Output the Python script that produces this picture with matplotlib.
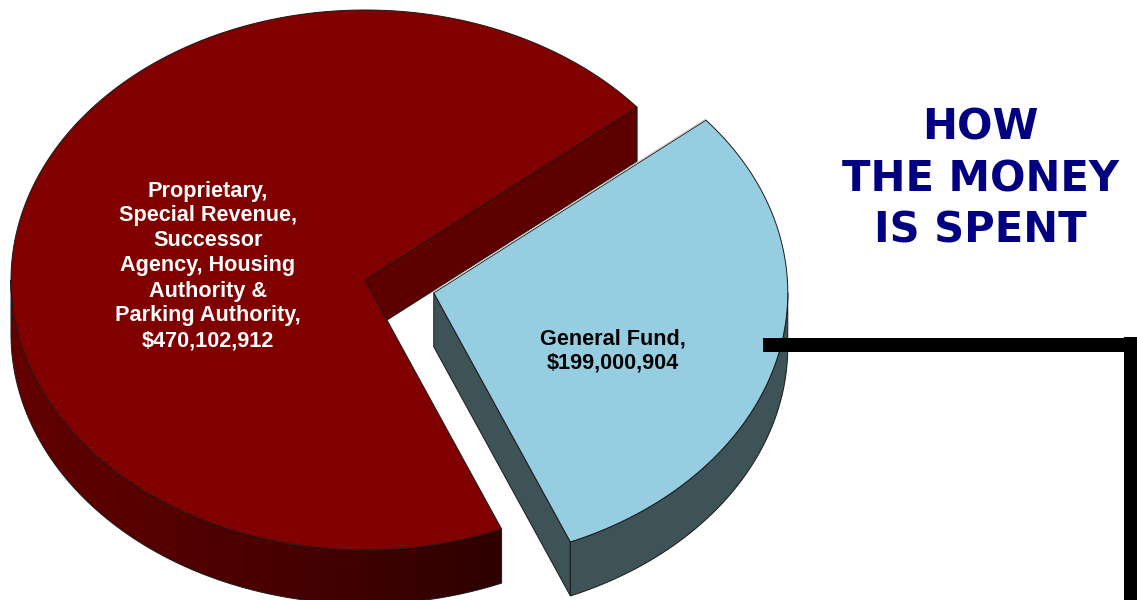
import numpy as np
import matplotlib
matplotlib.use("Agg")
import matplotlib.pyplot as plt
from matplotlib.patches import Polygon, Rectangle
from matplotlib.colors import LinearSegmentedColormap

# ---- data -------------------------------------------------------------
categories = [
    "Proprietary,\nSpecial Revenue,\nSuccessor\nAgency, Housing\nAuthority &\nParking Authority,",
    "General Fund,",
]
values = [470102912, 199000904]
explode = [0.0, 0.2]
title_text = "HOW\nTHE MONEY\nIS SPENT"

# ---- styling ----------------------------------------------------------
top_colors = ["#800000", "#96cde1"]
cut_colors = ["#5f0000", "#3d5358"]
label_colors = ["white", "black"]
W, H = 1137, 600
CX, CY = 365.0, 280.0          # projected centre of the pie top
RX, RY = 354.0, 270.0          # projected radii of the top ellipse
DEPTH = 54.0                   # thickness of the pie in pixels
START = -67.3                  # angle (deg) where the general fund slice starts

fig = plt.figure(figsize=(W / 100, H / 100), dpi=100)
ax = fig.add_axes([0, 0, 1, 1])
ax.set_xlim(0, W)
ax.set_ylim(H, 0)
ax.axis("off")

rim_cmap = LinearSegmentedColormap.from_list(
    "rim", ["#640000", "#4a0000", "#2e0000"])


def proj(theta_deg, r=1.0, off=(0.0, 0.0), z=0.0):
    t = np.radians(theta_deg)
    x = CX + (off[0] + r * np.cos(t)) * RX
    y = CY - (off[1] + r * np.sin(t)) * RY + z
    return x, y


def arc(t1, t2, off, z=0.0, n=200):
    ts = np.linspace(t1, t2, n)
    xs, ys = proj(ts, 1.0, off, z)
    return np.column_stack([xs, ys])


total = float(sum(values))
spans = [v / total * 360.0 for v in values]
# general fund from START counter-clockwise, remainder closes the circle
gf_t1, gf_t2 = START, START + spans[1]
wedges = [
    (gf_t2, START + 360.0),   # proprietary etc.
    (gf_t1, gf_t2),           # general fund
]

edge_kw = dict(edgecolor="#1a1a1a", linewidth=0.7)

for i in [0, 1]:
    t1, t2 = wedges[i]
    mid = np.radians((t1 + t2) / 2.0)
    off = (explode[i] * np.cos(mid), explode[i] * np.sin(mid))
    c_top = proj(0, 0.0, off)
    c_bot = proj(0, 0.0, off, DEPTH)

    # radial cut faces that face the viewer
    if np.cos(np.radians(t1)) > 0:
        r_top = proj(t1, 1.0, off)
        r_bot = proj(t1, 1.0, off, DEPTH)
        ax.add_patch(Polygon([c_top, r_top, r_bot, c_bot], closed=True,
                             facecolor=cut_colors[i], **edge_kw))
    if np.cos(np.radians(t2)) < 0:
        r_top = proj(t2, 1.0, off)
        r_bot = proj(t2, 1.0, off, DEPTH)
        ax.add_patch(Polygon([c_top, r_top, r_bot, c_bot], closed=True,
                             facecolor=cut_colors[i], **edge_kw))

    # front part of the outer rim
    segs = []
    for base in (-360.0, 0.0, 360.0):
        a = max(t1, 180.0 + base)
        b = min(t2, 360.0 + base)
        if b > a:
            segs.append((a, b))
    for a, b in segs:
        outline = np.vstack([arc(a, b, off, 0.0), arc(b, a, off, DEPTH)])
        if i == 0:
            rim = Polygon(outline, closed=True, facecolor="none",
                          **edge_kw)
            ax.add_patch(rim)
            x0, x1 = outline[:, 0].min(), outline[:, 0].max()
            y0, y1 = outline[:, 1].min(), outline[:, 1].max()
            grad = np.linspace(0, 1, 256)[None, :]
            im = ax.imshow(grad, cmap=rim_cmap, aspect="auto",
                           extent=(x0, x1, y1, y0), interpolation="bilinear",
                           zorder=rim.get_zorder() - 0.01)
            im.set_clip_path(rim)
        else:
            ax.add_patch(Polygon(outline, closed=True,
                                 facecolor=cut_colors[i], **edge_kw))

    # top surface
    top_pts = np.vstack([[c_top], arc(t1, t2, off, 0.0, 400)])
    ax.add_patch(Polygon(top_pts, closed=True, facecolor=top_colors[i],
                         **edge_kw))
    if i == 1:
        # faint highlight along the upper radial edge of the general fund
        e_top = proj(t2, 1.0, off)
        ax.plot([c_top[0], e_top[0]], [c_top[1] - 1.2, e_top[1] - 1.2],
                color="#c8c8c8", linewidth=0.8, zorder=3)

ax.set_xlim(0, W)
ax.set_ylim(H, 0)

# ---- labels -------------------------------------------------------------
labels = [f"{c}\n${v:,}" for c, v in zip(categories, values)]
label_pos = [(208, 266), (613, 351)]
for lab, (lx, ly), col in zip(labels, label_pos, label_colors):
    ax.text(lx, ly, lab, ha="center", va="center", color=col,
            fontsize=15.6, fontweight="bold", family="Liberation Sans",
            linespacing=1.25, zorder=5)

ax.text(980, 179, title_text, ha="center", va="center", color="#000080",
        fontsize=30, fontweight="bold", family="DejaVu Sans",
        linespacing=1.28, zorder=5)

# ---- connector bracket --------------------------------------------------
ax.add_patch(Rectangle((763, 338), 368, 14, facecolor="black",
                       edgecolor="none", zorder=5))
ax.add_patch(Rectangle((1124, 337), 20, 270, facecolor="black",
                       edgecolor="none", zorder=5))

fig.savefig("out.png", dpi=100)
